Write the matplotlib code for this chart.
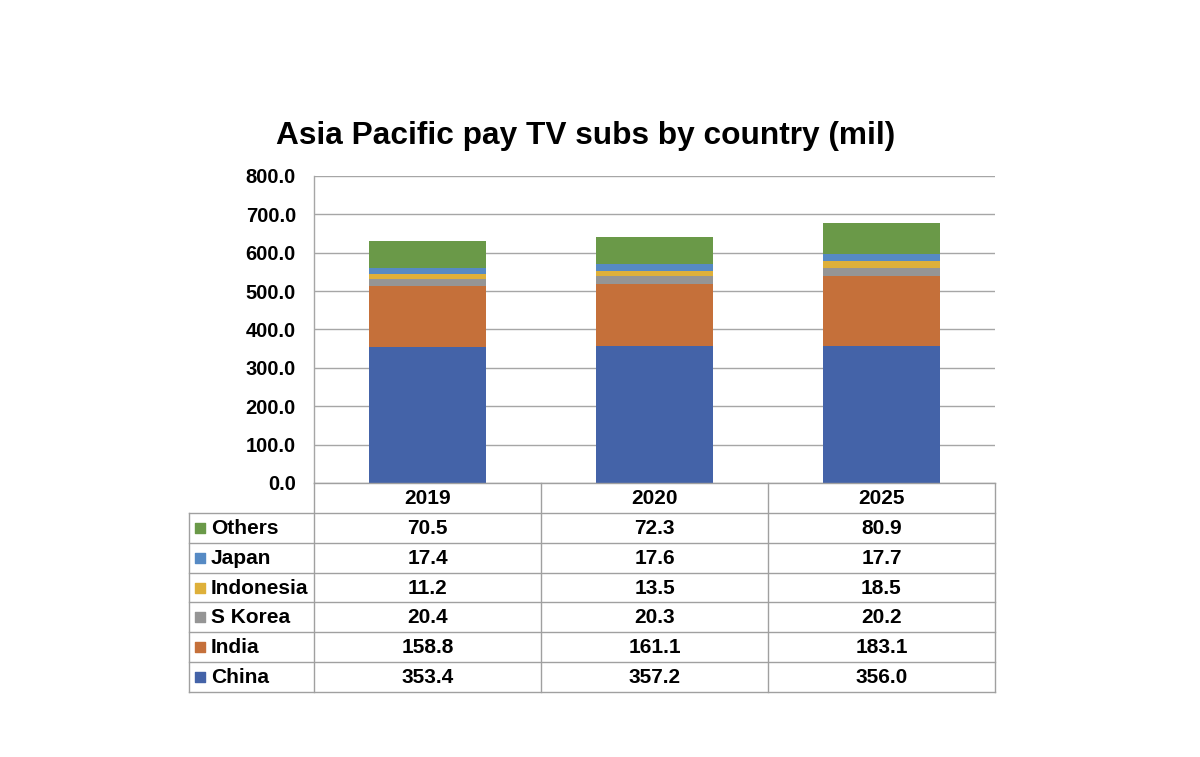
import matplotlib
matplotlib.use("Agg")
import matplotlib.pyplot as plt
import numpy as np

plt.rcParams['font.family'] = ['Liberation Sans', 'DejaVu Sans']

years = ["2019", "2020", "2025"]
series_names = ["China", "India", "S Korea", "Indonesia", "Japan", "Others"]
china = [353.4, 357.2, 356.0]
india = [158.8, 161.1, 183.1]
skorea = [20.4, 20.3, 20.2]
indonesia = [11.2, 13.5, 18.5]
japan = [17.4, 17.6, 17.7]
others = [70.5, 72.3, 80.9]
series_values = [china, india, skorea, indonesia, japan, others]
colors = ["#4463A8", "#C5703A", "#959595", "#DEB03A", "#568AC4", "#6A9948"]
yticks = [0, 100, 200, 300, 400, 500, 600, 700, 800]
title = "Asia Pacific pay TV subs by country (mil)"

W, H = 1200, 757
fig = plt.figure(figsize=(W / 100, H / 100), dpi=100)
fig.patch.set_facecolor("white")

L, R, T, B = 314, 995, 176, 483
ax = fig.add_axes([L / W, 1 - B / H, (R - L) / W, (B - T) / H])
x = np.arange(len(years))
bottom = np.zeros(len(years))
for vals, c in zip(series_values, colors):
    ax.bar(x, vals, width=0.515, bottom=bottom, color=c, zorder=3)
    bottom += np.array(vals)
ax.set_xlim(-0.5, len(years) - 0.5)
ax.set_ylim(0, 800)
ax.set_yticks(yticks)
ax.set_yticklabels([f"{v:.1f}" for v in yticks], fontsize=14.5, fontweight='bold')
ax.set_xticks([])
ax.tick_params(axis='y', length=0, pad=13)
ax.grid(axis='y', color='#A6A6A6', lw=1, zorder=0)
for s in ['top', 'right', 'bottom']:
    ax.spines[s].set_visible(False)
ax.spines['left'].set_color('#A6A6A6')
ax.spines['left'].set_linewidth(1)

fig.text(586 / W, 1 - 136 / H, title, fontsize=22.8, fontweight='bold',
         ha='center', va='center')

# Table
TL, TB = 189, 692
tax = fig.add_axes([TL / W, 1 - TB / H, (R - TL) / W, (TB - B) / H])
xleft = -0.5 - (L - TL) / ((R - L) / 3)
tax.set_xlim(xleft, len(years) - 0.5)
nrows = len(series_names) + 1
tax.set_ylim(nrows, 0)
tax.axis('off')
lc = '#A0A0A0'
tax.plot([-0.5, len(years) - 0.5], [0, 0], color=lc, lw=1, clip_on=False)
for r in range(1, nrows + 1):
    tax.plot([xleft, len(years) - 0.5], [r, r], color=lc, lw=1, clip_on=False)
tax.plot([xleft, xleft], [1, nrows], color=lc, lw=1, clip_on=False)
for cx in np.arange(len(years) + 1) - 0.5:
    tax.plot([cx, cx], [0, nrows], color=lc, lw=1, clip_on=False)

fs = 15
for i, yr in enumerate(years):
    tax.text(i, 0.52, yr, ha='center', va='center', fontsize=fs, fontweight='bold')

unit = (R - L) / 3
sq_x = -0.5 + (200 - L) / unit
tx_x = -0.5 + (211 - L) / unit
for r, idx in enumerate(range(len(series_names) - 1, -1, -1), start=1):
    name = series_names[idx]
    vals = series_values[idx]
    tax.scatter([sq_x], [r + 0.5], marker='s', s=55, color=colors[idx], clip_on=False)
    tax.text(tx_x, r + 0.52, name, ha='left', va='center', fontsize=fs, fontweight='bold')
    for i, v in enumerate(vals):
        tax.text(i, r + 0.52, f"{v:.1f}", ha='center', va='center', fontsize=fs, fontweight='bold')

fig.savefig("out.png", dpi=100)
